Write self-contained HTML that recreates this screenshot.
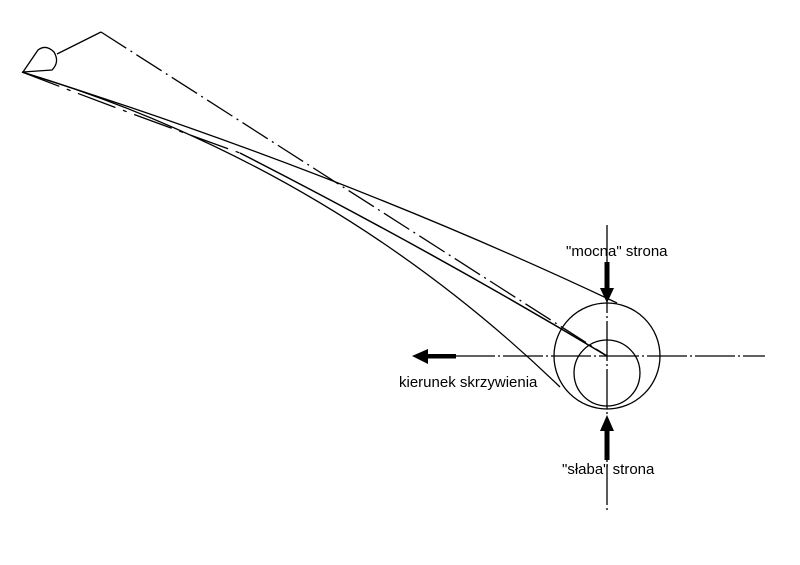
<!DOCTYPE html>
<html><head><meta charset="utf-8"><style>
html,body{margin:0;padding:0;background:#fff;}
svg{display:block}
text{font-family:"Liberation Sans",sans-serif;font-size:15px;fill:#000}
</style></head><body>
<svg width="800" height="565" viewBox="0 0 800 565" xmlns="http://www.w3.org/2000/svg">
<g fill="none" stroke="#000" stroke-width="1.3">
<!-- eye -->
<path d="M23,72 L38,50 Q46,44 54,52 Q60,62 52,70 L23,72"/>
<line x1="57" y1="54" x2="101" y2="32"/>
<!-- dash-dot sight line -->
<line x1="101" y1="32" x2="607" y2="356" stroke-dasharray="30,5,2,5"/>
<!-- upper curve -->
<path d="M22,72 Q340,172 617,303"/>
<!-- middle curve -->
<path d="M22,72 Q120,110 240,153" stroke-dasharray="40,8,4,8"/>
<path d="M240,153 Q430,250 607,356" stroke-width="1.5"/>
<!-- lower curve -->
<path d="M22,72 Q330,165 560,387"/>
<!-- circles -->
<circle cx="607" cy="356" r="53"/>
<circle cx="607" cy="373" r="33"/>
<!-- axes -->
<line x1="455" y1="356" x2="765" y2="356" stroke-dasharray="40,3,2,3"/>
<line x1="607" y1="225" x2="607" y2="510" stroke-dasharray="40,3,2,3"/>
</g>
<!-- arrows -->
<g fill="#000" stroke="none">
<rect x="426" y="354" width="30" height="4.5"/>
<polygon points="412,356 428,349 428,364"/>
<rect x="604.5" y="262" width="5" height="28"/>
<polygon points="607,303 600,288 614,288"/>
<rect x="604.5" y="428" width="5" height="32"/>
<polygon points="607,415 600,431 614,431"/>
</g>
<text x="566" y="256">"mocna" strona</text>
<text x="399" y="387">kierunek skrzywienia</text>
<text x="562" y="474">"słaba" strona</text>
</svg>
</body></html>
